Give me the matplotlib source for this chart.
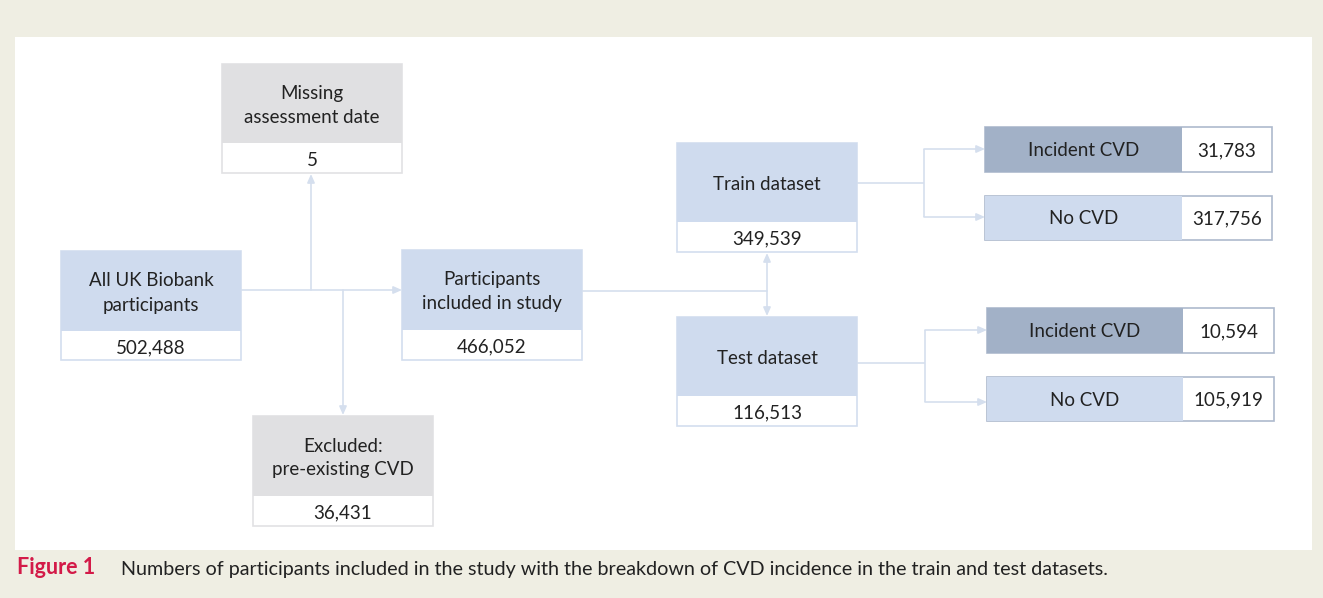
import matplotlib.pyplot as plt
from matplotlib.patches import Rectangle

plt.rcParams['font.family'] = ['Lato', 'DejaVu Sans']

# data
main_labels = ['All UK Biobank\nparticipants', 'Participants\nincluded in study',
               'Missing\nassessment date', 'Excluded:\npre-existing CVD',
               'Train dataset', 'Test dataset']
main_counts = ['502,488', '466,052', '5', '36,431', '349,539', '116,513']
outcome_labels = ['Incident CVD', 'No CVD', 'Incident CVD', 'No CVD']
outcome_counts = ['31,783', '317,756', '10,594', '105,919']
caption_tag = 'Figure 1'
caption_text = ('Numbers of participants included in the study with the breakdown '
                'of CVD incidence in the train and test datasets.')

# layout (pixels): x, top, width, label height, count height
main_pos = [(61, 251, 180, 80, 29), (402, 250, 180, 80, 30),
            (222, 64, 180, 79, 30), (253, 416, 180, 80, 30),
            (677, 143, 180, 79, 30), (677, 317, 180, 79, 30)]
main_fill = ['#CFDBEE', '#CFDBEE', '#E0E0E2', '#E0E0E2', '#CFDBEE', '#CFDBEE']
main_edge = ['#D3DEEF', '#D3DEEF', '#E2E2E4', '#E2E2E4', '#D3DEEF', '#D3DEEF']
out_pos = [(985, 127, 197, 90, 45), (985, 196, 197, 90, 44),
           (987, 308, 196, 91, 45), (987, 377, 196, 91, 44)]
out_fill = ['#A2B1C7', '#CFDBEE', '#A2B1C7', '#CFDBEE']

bg = '#EFEEE3'
line_c = '#D5DFEE'
txt_c = '#222222'
fs = 13.5

fig = plt.figure(figsize=(13.23, 5.98), dpi=100, facecolor=bg)
ax = fig.add_axes([0, 0, 1, 1])
ax.set_xlim(0, 1323)
ax.set_ylim(598, 0)
ax.axis('off')

ax.add_patch(Rectangle((15, 37), 1297, 513, facecolor='white', edgecolor='none'))

for lab, cnt, (x, y, w, h1, h2), fc, ec in zip(main_labels, main_counts, main_pos,
                                              main_fill, main_edge):
    ax.add_patch(Rectangle((x, y), w, h1 + h2, facecolor='white', edgecolor=ec, lw=1.2))
    ax.add_patch(Rectangle((x, y), w, h1, facecolor=fc, edgecolor='none'))
    ax.text(x + w / 2, y + h1 / 2 + 2, lab, ha='center', va='center', fontsize=fs,
            color=txt_c, linespacing=1.5)
    ax.text(x + w / 2, y + h1 + h2 / 2 + 2, cnt, ha='center', va='center', fontsize=fs,
            color=txt_c)

for lab, cnt, (x, y, w, w2, h), fc in zip(outcome_labels, outcome_counts, out_pos, out_fill):
    ax.add_patch(Rectangle((x, y), w + w2, h, facecolor='white', edgecolor='#AEBACD', lw=1.2))
    ax.add_patch(Rectangle((x, y), w, h, facecolor=fc, edgecolor='none'))
    ax.text(x + w / 2, y + h / 2 + 1, lab, ha='center', va='center', fontsize=fs, color=txt_c)
    ax.text(x + w + w2 / 2, y + h / 2 + 1, cnt, ha='center', va='center', fontsize=fs,
            color=txt_c)


def seg(x0, y0, x1, y1):
    ax.plot([x0, x1], [y0, y1], color=line_c, lw=1.2, solid_capstyle='butt')


def arrow(x0, y0, x1, y1):
    ax.annotate('', xy=(x1, y1), xytext=(x0, y0),
                arrowprops=dict(arrowstyle='-|>,head_length=0.5,head_width=0.22',
                                color=line_c, lw=1.2, shrinkA=0, shrinkB=0))


# left part
arrow(241, 290, 402, 290)
arrow(311, 290, 311, 174)
arrow(343, 290, 343, 415)

# to train / test
seg(582, 291, 767, 291)
arrow(767, 291, 767, 253)
arrow(767, 291, 767, 316)

# train branches
seg(857, 183, 924, 183)
seg(924, 149, 924, 217)
arrow(924, 149, 985, 149)
arrow(924, 217, 985, 217)

# test branches
seg(857, 363, 925, 363)
seg(925, 330, 925, 402)
arrow(925, 330, 987, 330)
arrow(925, 402, 987, 402)

# caption
ax.text(17, 568, caption_tag, ha='left', va='center', fontsize=15.5, fontweight='bold',
        color='#D31A48')
ax.text(121, 569, caption_text, ha='left', va='center', fontsize=14.2, color='#222222')

fig.savefig('out.png', dpi=100, facecolor=bg)
